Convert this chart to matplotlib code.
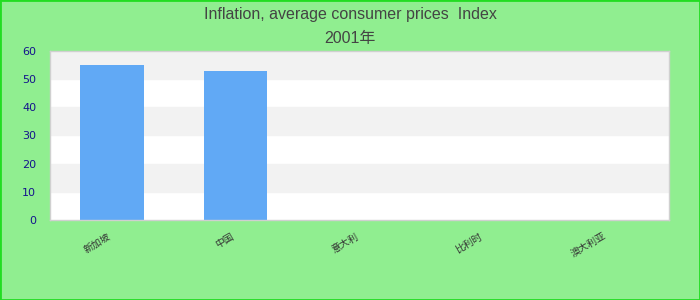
import matplotlib
matplotlib.use('Agg')
import matplotlib.pyplot as plt
from matplotlib.patches import Rectangle

plt.rcParams['font.family'] = ['DejaVu Sans', 'Noto Sans CJK SC']

# chart data
categories = ['新加坡', '中国', '意大利', '比利时', '澳大利亚']
values = [55, 53, 0, 0, 0]
title_line1 = 'Inflation, average consumer prices  Index'
title_line2 = '2001年'
y_ticks = [0, 10, 20, 30, 40, 50, 60]

fig = plt.figure(figsize=(7, 3), dpi=100, facecolor='#90ee90')
fig.patches.append(Rectangle((0, 0), 1, 1, transform=fig.transFigure, fill=False,
                             edgecolor='#22dd22', linewidth=2, zorder=10))

ax = fig.add_axes([0.0714, 0.2667, 0.885, 0.5633])
ax.set_facecolor('white')

# alternating bands
for i in range(len(y_ticks) - 1):
    if i % 2 == 1:
        ax.axhspan(y_ticks[i], y_ticks[i + 1], color='#f2f2f2', zorder=0)

x = list(range(len(categories)))
ax.bar(x, values, width=0.51, color='#61a9f5', zorder=2)

ax.set_xlim(-0.5, len(categories) - 0.5)
ax.set_ylim(0, 60)
ax.set_yticks(y_ticks)
ax.set_yticklabels([str(t) for t in y_ticks], color='#14148c', fontsize=8)
ax.set_xticks(x)
ax.set_xticklabels(categories, rotation=30, ha='right', fontsize=7, color='#333333',
                   family=['Noto Sans CJK SC', 'DejaVu Sans'])
ax.tick_params(length=0, pad=8)
ax.tick_params(axis='y', pad=10)
for s in ax.spines.values():
    s.set_color('#d0d0d0')
    s.set_linewidth(1)

fig.text(0.5, 0.953, title_line1, ha='center', va='center', fontsize=11.5, color='#444444',
         family=['Liberation Sans', 'Noto Sans CJK SC'])
fig.text(0.5, 0.872, title_line2, ha='center', va='center', fontsize=11.5, color='#444444',
         family=['Liberation Sans', 'Noto Sans CJK SC'])

plt.savefig('out.png', dpi=100, facecolor=fig.get_facecolor())
